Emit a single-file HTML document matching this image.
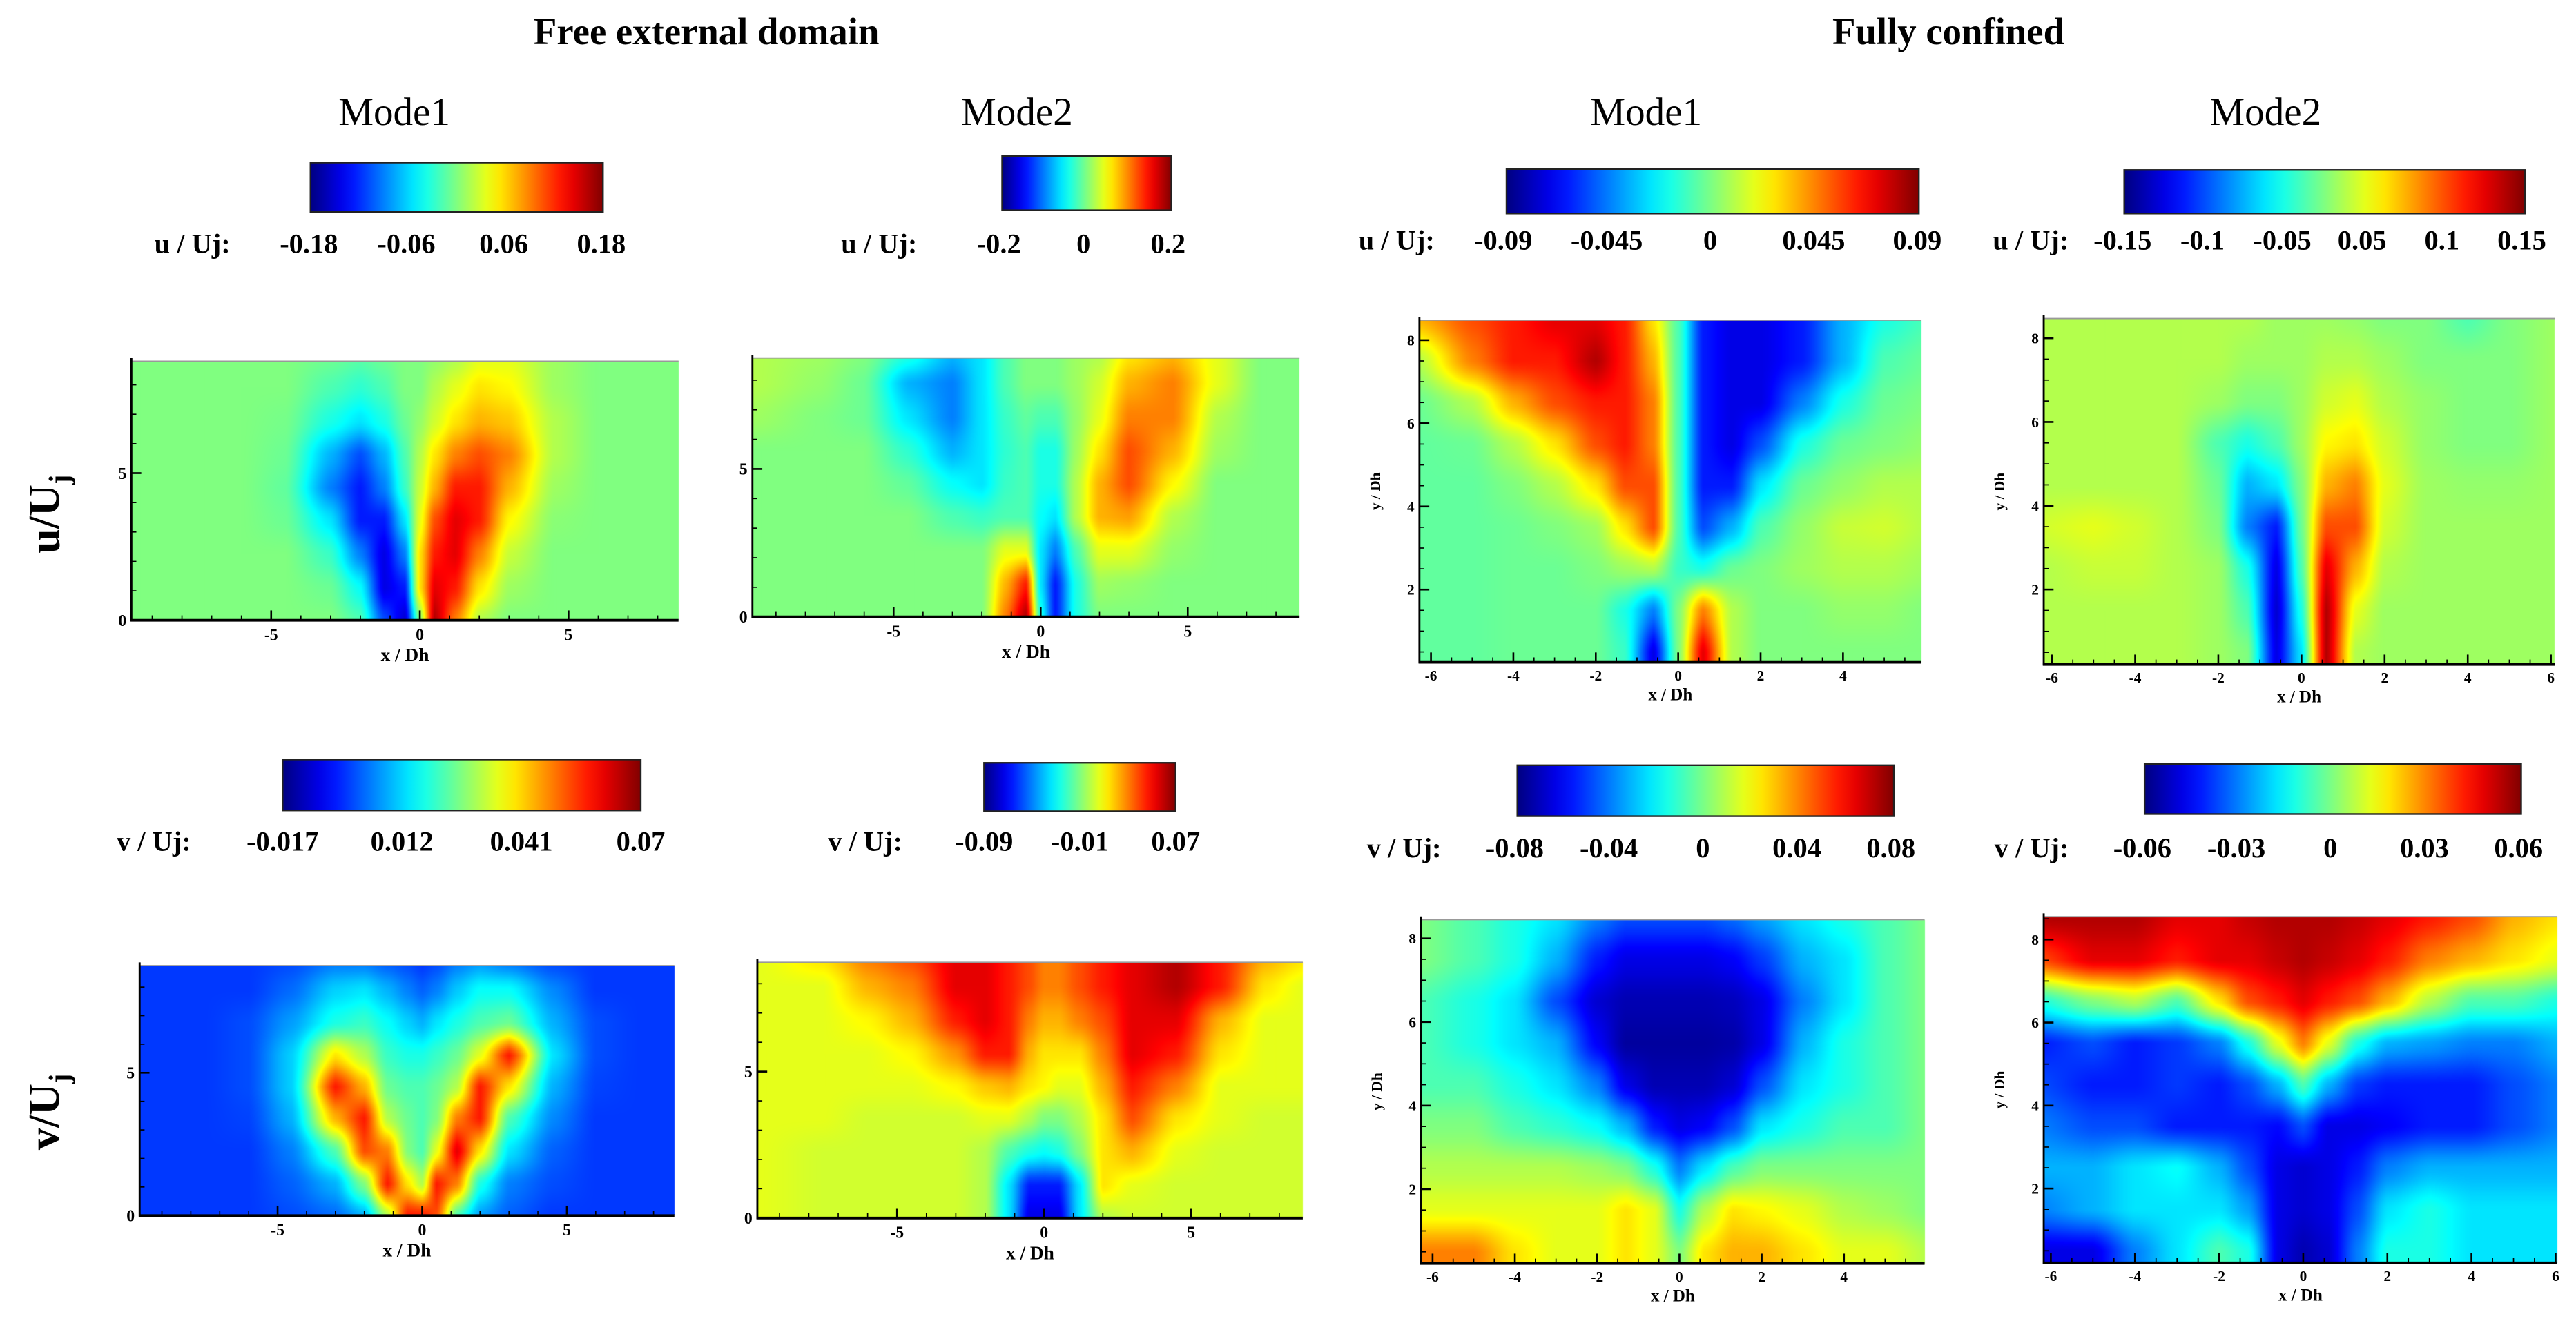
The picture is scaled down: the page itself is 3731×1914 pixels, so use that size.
<!DOCTYPE html>
<html><head><meta charset="utf-8">
<style>
html,body{margin:0;padding:0;background:#fff;}
#wrap{position:relative;width:3731px;height:1914px;overflow:hidden;background:#fff;}
#heat{position:absolute;left:0;top:0;}
#ov{position:absolute;left:0;top:0;}
text{font-family:"Liberation Serif",serif;}
</style></head>
<body>
<div id="wrap">
<canvas id="heat" width="3731" height="1914"></canvas>
<svg id="ov" width="3731" height="1914" viewBox="0 0 1568 804.4" preserveAspectRatio="none"></svg>
</div>
<script>
// ---- grid coordinates (data units) ----
const feX = [-9.7,-7.5,-6,-4.5,-3,-2,-1.2,-0.5,0,0.5,1.2,2,3,4.5,6,7.5,8.8];
const feY = [8.8,7.9,6.75,5.6,4.5,3.4,2.25,1.1,0];
const fcX = [-6.3,-5,-4,-3,-2,-1.3,-0.6,0,0.6,1.3,2,3,4,5,6.1];
const fcY = [8.5,7.5,6.5,5.5,4.5,3.5,2.5,1.5,0.5];

// ---- field values (jet index 0..10, rows top->bottom) ----
const feM1u = [
[5,5,5,5,4.8,4.6,4.8,5,5,5.2,5.5,6,6,5.3,5,5,5],
[5,5,5,5,4.5,4.2,4.5,5,5,5.5,6,6.5,6.3,5.3,5,5,5],
[5,5,5,4.9,4,3.5,4,4.8,5.2,5.8,6.5,7,6.8,5.5,5,5,5],
[5,5,5,4.8,3,2,3,4.5,5.5,6.5,7.5,8,7.5,5.5,5,5,5],
[5,5,5,4.7,2.5,1.5,2.5,4.3,5.7,7,8.5,8.5,7,5.3,5,5,5],
[5,5,5,4.8,3.5,1.5,1.5,3.5,6,8,9,8.5,6.3,5.1,5,5,5],
[5,5,5,5,4.3,2.5,1,2.5,6.5,8.5,9,7.5,5.7,5,5,5,5],
[5,5,5,5,4.8,3.8,1,1.5,6.5,9,8.5,6.5,5.3,5,5,5,5],
[5,5,5,5,5,4.5,2,0.8,5,9.5,7.5,5.5,5,5,5,5,5]];
const feM2u = [
[5.5,5.3,5,4,3,3.5,4.5,5,5,5,5.3,5.5,6.5,7,6,5,5],
[5.5,5.2,4.8,3,2.5,3.5,4.5,5,5,5,5.3,5.8,7,7.5,6,5,5],
[5.3,5,4.8,3.5,2.5,3.5,4.3,4.7,4.5,4.5,5.2,6,7.5,7.5,5.5,5,5],
[5,5,5,4.2,3,3.5,4.2,4.5,4,4,5.3,6.5,8,7,5.3,5,5],
[5,5,5,4.7,3.8,3.5,4.3,4.5,4,4,5.5,7,8,6.3,5,5,5],
[5,5,5,5,4.5,4.3,4.5,4.5,3.8,3.5,5.5,7,7.2,5.5,5,5,5],
[5,5,5,5,5,5,6,6,3.5,2.5,4.5,6,6,5.2,5,5,5],
[5,5,5,5,5,5,7,8.5,3.5,1.5,4,5.3,5.2,5,5,5,5],
[5,5,5,5,5,5,7.5,9.5,4,1.5,4,5,5,5,5,5,5]];
const feM1v = [
[1.8,1.8,1.8,2,2.5,2.5,2.2,2,1.8,2,2.5,2.8,2.5,2,1.8,1.8,1.8],
[1.8,1.8,1.8,2.3,3.3,3.5,3,2.5,2.2,2.5,3.2,3.8,3.8,2.6,1.8,1.8,1.8],
[1.8,1.8,2,2.8,4,4.3,3.8,3.3,3,3.5,4,4.5,4.8,3,2,1.8,1.8],
[1.8,1.8,2,3.3,6.5,5.5,4.3,4,4,4.3,4.8,6,8.5,3.5,2,1.8,1.8],
[1.8,1.8,2,3.3,8.5,7,4.8,4.5,4.5,4.8,5.5,8.5,6.5,3,1.9,1.8,1.8],
[1.8,1.8,1.9,3,7,8.5,5.5,4.8,4.5,5,7.5,8.5,4.5,2.6,1.8,1.8,1.8],
[1.8,1.8,1.8,2.5,4.5,8,7.5,5,4.5,6,9,6.5,3.5,2.2,1.8,1.8,1.8],
[1.8,1.8,1.8,2.2,3,5,8.5,6.5,5.5,8.5,7.5,4,2.5,2,1.8,1.8,1.8],
[1.8,1.8,1.8,2,2.3,3,5.5,8.5,8.5,8,4.5,2.8,2.2,1.8,1.8,1.8,1.8]];
const feM2v = [
[6,6.5,7.5,8,9,9,8.5,8,7.5,7.5,8,8.5,9,9.5,8.5,7,6.5],
[6,6,7,7.5,9,9,8.5,8,7.5,7.5,8,8.5,9,9.5,8.5,6.5,6],
[6,6,6.3,7,8.5,9,8.5,7.5,7,7,7.5,8,9,9,7,6,6],
[6,6,6,6.3,7.3,8.5,8.5,7,6.5,6.5,6.5,7.5,9,8.5,6.5,6,6],
[6,6,6,6,6.3,6.8,7,6.5,6.3,6,6,7,8.5,7.5,6,6,6],
[6,6,5.8,5.8,5.8,6,6,5.5,5,5,5.5,6.5,8,6.5,6,5.8,5.8],
[6,5.8,5.8,5.8,5.8,5.5,4.5,4,3.8,4,5,6.5,7,6,5.8,5.8,5.8],
[6,5.8,5.8,5.8,5.8,5.5,3.5,1.5,1.5,1.5,3.5,6.5,6,5.8,5.8,5.8,5.8],
[6,5.8,5.8,5.8,5.8,5.5,3.5,1,1,1,3.5,5.5,5.8,5.8,5.8,5.8,5.8]];
const fcM1u = [
[7,8,8.5,9,9,8.5,6.5,4.5,1.5,1,1,1.5,3,4,4.5],
[5.5,7.5,8.5,8.5,9.5,8.5,7,4.5,1.5,1,1,1.5,3,4.5,4.8],
[4.8,5.5,7,8,8.5,8.5,7.5,4.5,1.5,1,1,2.5,4,4.8,5],
[4.7,4.8,5.5,6.5,8,8.5,7.5,4.5,1.5,1,2,4,4.8,5,5.2],
[4.7,4.7,5,5.5,6.5,8,8,4.5,1.5,1.5,3.5,4.8,5.2,5.5,5.5],
[4.7,4.7,4.8,5,5.3,6.5,8,4.5,2,3,4.5,5.2,5.7,5.8,5.5],
[4.7,4.7,4.8,4.8,5,5.3,5.5,4.3,4,4.8,5,5.3,5.5,5.5,5.3],
[4.7,4.7,4.8,4.8,4.8,4,2.5,5,7.5,5.5,5,5,5.2,5.2,5],
[4.7,4.7,4.8,4.8,4.8,4.3,1,5,9,5.5,5,5,5,5,5]];
const fcM2u = [
[5.5,5.5,5.5,5.5,5.5,5.5,5.3,5.3,5.3,5.2,5,5,4.5,5,5.3],
[5.5,5.5,5.5,5.5,5.5,5.3,5.3,5.3,5.5,5.5,5.3,5,5,5,5.3],
[5.5,5.5,5.5,5.5,5.3,5,5,5.3,5.8,6,5.5,5.2,5,5,5.3],
[5.5,5.5,5.5,5.5,4.5,4,4.5,5.3,6.3,6.5,5.8,5.2,5,5,5.3],
[5.5,5.5,5.5,5.5,4.8,3,3.5,5,7,7.5,6,5.3,5.2,5.2,5.3],
[5.8,6,5.8,5.5,5,2.5,1.5,4.8,8,8,5.8,5.3,5.3,5.3,5.3],
[5.5,5.7,5.7,5.5,5.3,4,1,4.5,9,7,5.5,5.3,5.3,5.3,5.3],
[5.5,5.5,5.5,5.5,5.3,4.5,0.8,4,9.5,6,5.3,5.3,5.3,5.3,5.3],
[5.5,5.5,5.5,5.5,5.3,5,1,3.5,9.5,5.5,5.3,5.3,5.3,5.3,5.3]];
const fcM1v = [
[5,4.5,4,3.5,2.5,2,2,2,2,2.3,2.8,3.5,4,4.5,5],
[5,4.5,4,3,1.5,1,1,1,1,1.2,1.8,3,3.5,4.5,5],
[4.5,4,3.5,2,0.8,0.5,0.5,0.5,0.5,0.6,1,2.5,3.5,4.5,5],
[4.5,4,3.5,3,1.2,0.3,0.3,0.3,0.3,0.4,1,3,4,4.5,5],
[4.5,4.5,4,3.5,2.5,1,0.5,0.5,0.5,0.8,2,3.5,4,4.5,5],
[5,5,4.5,4.2,3.8,3,1.5,1,1.2,2,3.5,4,4.5,4.5,5],
[5.5,5.5,5.5,5.5,5.3,5,4,2.5,3.5,4.5,5,5,5,5,5],
[6,6,6,6,6,6.5,6,4,5.5,6.5,6.3,6,5.5,5.3,5],
[7.5,7.5,6.5,6,6,6.5,6,5,6.5,7,7,6.5,6,6,5.5]];
const fcM2v = [
[9.5,9.5,9.5,9,9,9.3,9.5,9.5,9.5,9.3,9,8.5,8,7,6.5],
[8,9,9,8.5,9,9,9.3,9.5,9.3,9,8.5,7.5,7,6.5,6],
[4,5,5.5,4.5,6.5,8,8.5,9,8.5,8,7,5.5,4.5,4.5,4],
[1.5,2,1.5,1.8,2.5,4,6,7.5,6,4,3,2.8,2.5,2.5,3],
[2,1.5,1.5,1.8,1.5,2,3,4.5,3,1.8,1.5,1.5,1.5,2,2.5],
[2.5,2,2,1.5,1.5,1.5,1.3,2,1,1,1.2,1.5,1.5,2,2.5],
[3,3,3.5,3.8,3,2,1,0.8,1,1.5,2.5,3,3,3,3],
[2.5,3,3.5,3.5,3.5,2.8,1,0.8,1,2,3.5,4,3.5,3.5,3.5],
[1,1,2.5,3.5,4.5,4,1,0.5,0.8,2.5,4,4,3.5,3.5,3.5]];

// colorbar tick labels
const cbLabels1 = ["-0.18","-0.06","0.06","0.18"];
const cbLabels2 = ["-0.2","0","0.2"];
const cbLabels3 = ["-0.09","-0.045","0","0.045","0.09"];
const cbLabels4 = ["-0.15","-0.1","-0.05","0.05","0.1","0.15"];
const cbLabels5 = ["-0.017","0.012","0.041","0.07"];
const cbLabels6 = ["-0.09","-0.01","0.07"];
const cbLabels7 = ["-0.08","-0.04","0","0.04","0.08"];
const cbLabels8 = ["-0.06","-0.03","0","0.03","0.06"];

const S = 3731/1568;
const NS = "http://www.w3.org/2000/svg";
const svg = document.getElementById('ov');
const ctx = document.getElementById('heat').getContext('2d');

function clamp(v){return Math.max(0,Math.min(1,v));}
function jet(t){
  const r=clamp(1.5-Math.abs(4*t-3)), g=clamp(1.5-Math.abs(4*t-2)), b=clamp(1.5-Math.abs(4*t-1));
  return [Math.round(r*255),Math.round(g*255),Math.round(b*255)];
}
function el(tag, attrs, parent){
  const e=document.createElementNS(NS,tag);
  for(const k in attrs) e.setAttribute(k,attrs[k]);
  (parent||svg).appendChild(e); return e;
}
function txt(s,x,y,size,opts,name){
  const e=el('text',Object.assign({x:x,y:y,'font-size':size,fill:'#000'},opts||{}));
  e.textContent=s;
  
  
  return e;
}
// locate v in ascending or descending coordinate list -> [index, frac]
function locate(arr,v){
  const n=arr.length, asc=arr[n-1]>arr[0];
  const a = asc?arr:arr.slice().reverse();
  let i=0;
  if(v<=a[0]) return asc?[0,0]:[n-2,1];
  if(v>=a[n-1]) return asc?[n-2,1]:[0,0];
  while(i<n-2 && v>a[i+1]) i++;
  let f=(v-a[i])/(a[i+1]-a[i]);
  f=f*f*(3-2*f)*0.5+f*0.5;
  if(asc) return [i,f];
  return [n-2-i,1-f];
}

const defs=el('defs',{});
const grad=el('linearGradient',{id:'jetg',x1:0,y1:0,x2:1,y2:0},defs);
for(let i=0;i<=20;i++){const c=jet(i/20);el('stop',{offset:(i/20),'stop-color':`rgb(${c})`},grad);}

txt("Free external domain",430,27,23,{'text-anchor':'middle','font-weight':'bold'},'title-free-external');
txt("Fully confined",1186,27,23,{'text-anchor':'middle','font-weight':'bold'},'title-fully-confined');
[[240,'Mode1'],[619,'Mode2'],[1002,'Mode1'],[1379,'Mode2']].forEach((m,i)=>{
  txt(m[1],m[0],76,24,{'text-anchor':'middle'},'mode-title-'+(i+1));
});
function rowLabel(base,x,y,name){
  const t=el('text',{x:0,y:0,'font-size':27,'font-weight':'bold','text-anchor':'middle',transform:`translate(${x},${y}) rotate(-90)`});
  t.textContent=base+'/U';
  const sub=el('tspan',{'font-size':18,dy:6},t); sub.textContent='j';
  
  
}
rowLabel('u',36,313,'row-label-u');
rowLabel('v',36,677,'row-label-v');

function colorbar(x0,x1,y0,y1,labels,lblX,prefix,prefX,baseY,name){
  const r=el('rect',{x:x0,y:y0,width:x1-x0,height:y1-y0,fill:'url(#jetg)',stroke:'#222','stroke-width':1});
  
  
  txt(prefix,prefX,baseY,17,{'font-weight':'bold'},name+'-title');
  labels.forEach((l,i)=>{
    const x = lblX[0] + (lblX[1]-lblX[0])*i/(labels.length-1);
    txt(l,x,baseY,17,{'text-anchor':'middle','font-weight':'bold'},name+'-label');
  });
}
colorbar(189,367,99,129,cbLabels1,[188,366],'u / Uj:',94,154,'colorbar-free-mode1-u');
colorbar(610,713,95,128,cbLabels2,[608,711],'u / Uj:',512,154,'colorbar-free-mode2-u');
colorbar(917,1168,103,130,cbLabels3,[915,1167],'u / Uj:',827,152,'colorbar-confined-mode1-u');
colorbar(1293,1537,103.5,130,cbLabels4,[1292,1535],'u / Uj:',1213,152,'colorbar-confined-mode2-u');
colorbar(172,390,462.5,493.5,cbLabels5,[172,390],'v / Uj:',71,518,'colorbar-free-mode1-v');
colorbar(599,715.6,464.5,494,cbLabels6,[599,715.6],'v / Uj:',504,518,'colorbar-free-mode2-v');
colorbar(923.6,1152.8,466,497,cbLabels7,[922,1151],'v / Uj:',832,522,'colorbar-confined-mode1-v');
colorbar(1305.4,1534.6,465.3,495.7,cbLabels8,[1304,1533],'v / Uj:',1214,522,'colorbar-confined-mode2-v');

function panel(p){
  const w=p.r-p.l, h=p.b-p.t;
  const sx=v=>p.l+(v-p.xmin)/(p.xmax-p.xmin)*w;
  const sy=v=>p.b-(v-p.ymin)/(p.ymax-p.ymin)*h;
  // heatmap, interpolated per device pixel
  const X0=Math.round(p.l*S), Y0=Math.round(p.t*S);
  const W=Math.round(p.r*S)-X0, H=Math.round(p.b*S)-Y0;
  const img=ctx.createImageData(W,H);
  const g=p.grid;
  const colL=[]; for(let i=0;i<W;i++){const xv=p.xmin+(i+0.5)/W*(p.xmax-p.xmin); colL.push(locate(p.xs,xv));}
  for(let j=0;j<H;j++){
    const yv=p.ymax-(j+0.5)/H*(p.ymax-p.ymin);
    const [r,fy]=locate(p.ys,yv);
    const ra=g[r], rb=g[r+1];
    for(let i=0;i<W;i++){
      const [c,fx]=colL[i];
      const top=ra[c]*(1-fx)+ra[c+1]*fx, bot=rb[c]*(1-fx)+rb[c+1]*fx;
      const col=jet((top*(1-fy)+bot*fy)/10);
      const k=(j*W+i)*4; img.data[k]=col[0];img.data[k+1]=col[1];img.data[k+2]=col[2];img.data[k+3]=255;
    }
  }
  ctx.putImageData(img,X0,Y0);
  const grp=el('g',{});
  
  
  el('line',{x1:p.l,y1:p.t,x2:p.r,y2:p.t,stroke:'#999','stroke-width':0.8},grp);
  for(let v=Math.ceil(p.xmin/p.xminor)*p.xminor; v<=p.xmax+1e-9; v+=p.xminor){
    const major=Math.abs(v/p.xmajor-Math.round(v/p.xmajor))<1e-6;
    el('line',{x1:sx(v),y1:p.b,x2:sx(v),y2:p.b-(major?6:3),stroke:'#000','stroke-width':major?1.1:0.7},grp);
    if(major) txt(String(Math.round(v)),sx(v),p.b+p.tf+2,p.tf,{'text-anchor':'middle','font-weight':'bold'},'x-tick-label');
  }
  for(let v=Math.ceil(p.ymin/p.yminor)*p.yminor; v<=p.ymax+1e-9; v+=p.yminor){
    const major=Math.abs(v/p.ymajor-Math.round(v/p.ymajor))<1e-6;
    el('line',{x1:p.l,y1:sy(v),x2:p.l+(major?6:3),y2:sy(v),stroke:'#000','stroke-width':major?1.1:0.7},grp);
    if(major) txt(String(Math.round(v)),p.l-3,sy(v)+p.tf*0.35,p.tf,{'text-anchor':'end','font-weight':'bold'},'y-tick-label');
  }
  el('line',{x1:p.l,y1:p.t-2,x2:p.l,y2:p.b+0.7,stroke:'#000','stroke-width':1.2},grp);
  el('line',{x1:p.l-0.5,y1:p.b,x2:p.r,y2:p.b,stroke:'#000','stroke-width':1.6},grp);
  txt('x / Dh',(p.l+p.r)/2,p.b+p.tf*2+5,p.tf+1.5,{'text-anchor':'middle','font-weight':'bold'},'x-axis-title');
  if(p.ylab){
    const t=el('text',{x:0,y:0,'font-size':p.tf,'font-weight':'bold','text-anchor':'middle',transform:`translate(${p.l-24},${(p.t+p.b)/2}) rotate(-90)`});
    t.textContent='y / Dh';
    
    
  }
}
const FE={xs:feX,ys:feY,xminor:1,xmajor:5,yminor:1,ymajor:5,ymin:0,tf:10};
const FC={xs:fcX,ys:fcY,xminor:0.5,xmajor:2,yminor:0.5,ymajor:2,tf:9,ylab:true};
panel(Object.assign({},FE,{name:'plot-free-mode1-u',grid:feM1u,l:80,r:413,t:220,b:377.7,xmin:-9.7,xmax:8.7,ymax:8.8}));
panel(Object.assign({},FE,{name:'plot-free-mode2-u',grid:feM2u,l:458,r:791,t:218,b:375.6,xmin:-9.8,xmax:8.8,ymax:8.75}));
panel(Object.assign({},FE,{name:'plot-free-mode1-v',grid:feM1v,l:85,r:410.5,t:588,b:740.2,xmin:-9.77,xmax:8.72,ymax:8.75}));
panel(Object.assign({},FE,{name:'plot-free-mode2-v',grid:feM2v,l:461,r:793,t:586,b:741.7,xmin:-9.75,xmax:8.8,ymax:8.73}));
panel(Object.assign({},FC,{name:'plot-confined-mode1-u',grid:fcM1u,l:864,r:1169.5,t:195,b:403.3,xmin:-6.28,xmax:5.9,ymin:0.25,ymax:8.48}));
panel(Object.assign({},FC,{name:'plot-confined-mode2-u',grid:fcM2u,l:1244,r:1555,t:194,b:404.6,xmin:-6.2,xmax:6.09,ymin:0.21,ymax:8.47}));
panel(Object.assign({},FC,{name:'plot-confined-mode1-v',grid:fcM1v,l:865,r:1171.5,t:560,b:769.4,xmin:-6.28,xmax:5.96,ymin:0.22,ymax:8.45}));
panel(Object.assign({},FC,{name:'plot-confined-mode2-v',grid:fcM2v,l:1244,r:1556.6,t:558.2,b:769,xmin:-6.17,xmax:6.04,ymin:0.21,ymax:8.55}));
</script>
</body></html>
